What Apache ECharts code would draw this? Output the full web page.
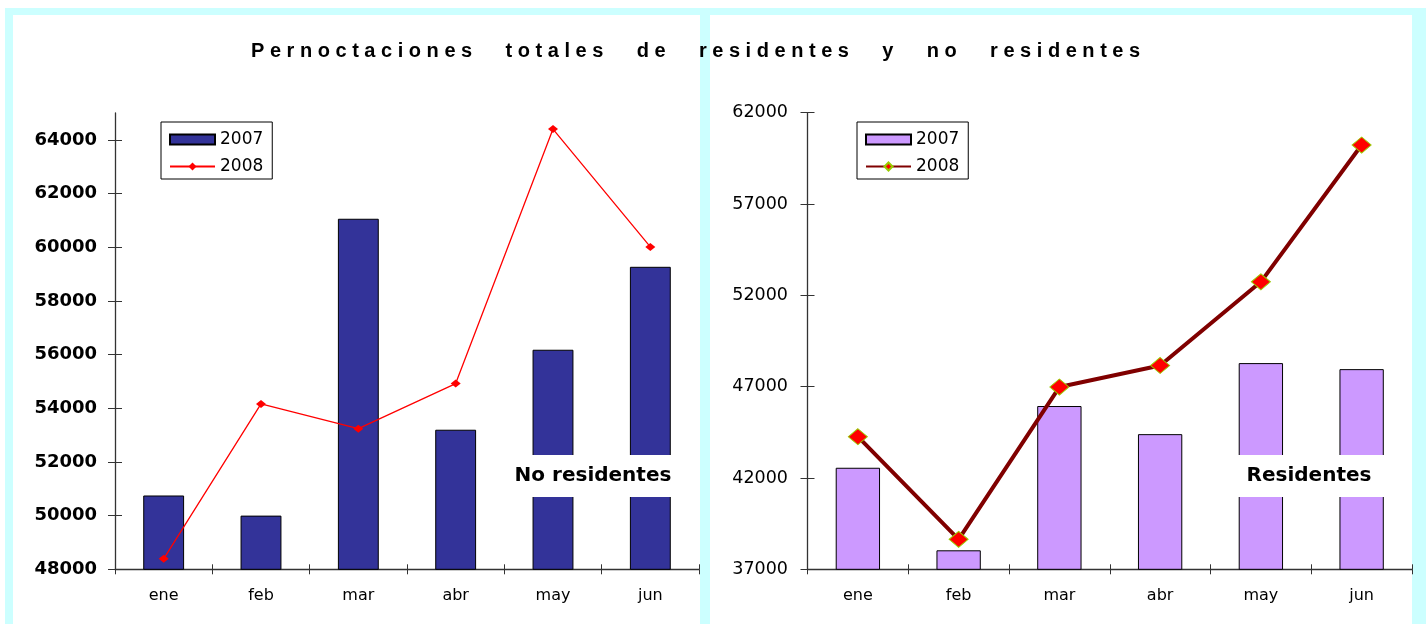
<!DOCTYPE html>
<html>
<head>
<meta charset="utf-8">
<script src="https://cdn.jsdelivr.net/npm/echarts@6/dist/echarts.min.js"></script>
<style>
html,body{margin:0;padding:0;background:#fff;}
#main{width:1426px;height:624px;}
</style>
</head>
<body>
<div id="main"></div>
<script>
// datos
var months = ['ene', 'feb', 'mar', 'abr', 'may', 'jun'];
var noRes2007 = [50750, 50000, 61060, 53200, 56180, 59270];
var noRes2008 = [48390, 54160, 53240, 54920, 64400, 60010];
var res2007 = [42560, 38040, 45940, 44400, 48290, 47960];
var res2008 = [44260, 38640, 46980, 48160, 52740, 60230];
var leftTicks = [48000, 50000, 52000, 54000, 56000, 58000, 60000, 62000, 64000];
var rightTicks = [37000, 42000, 47000, 52000, 57000, 62000];
var titleWords = ['Pernoctaciones', 'totales', 'de', 'residentes', 'y', 'no', 'residentes'];

// titulo con letras espaciadas como en el original
var titleText = titleWords.map(function (w) { return w.split('').join(' '); }).join('      ');
var numFont = 'DejaVu Sans';
var axisColor = '#333';

function plain(v) { return String(v); }

function yMain(grid, min, max, ticks, bold, size, margin) {
	return {
		type: 'value', gridIndex: grid, position: 'left', min: min, max: max,
		axisLine: {show: true, lineStyle: {color: axisColor, width: 1.3}},
		axisTick: {show: true, length: 7, lineStyle: {color: axisColor}, customValues: ticks},
		axisLabel: {
			customValues: ticks, margin: margin, color: '#000', formatter: plain,
			fontFamily: numFont, fontSize: size, fontWeight: bold ? 'bold' : 'normal'
		},
		splitLine: {show: false}
	};
}
function yInner(grid, min, max, ticks) {
	return {
		type: 'value', gridIndex: grid, position: 'left', min: min, max: max,
		axisLine: {show: false},
		axisTick: {show: true, inside: true, length: 7, lineStyle: {color: axisColor}, customValues: ticks},
		axisLabel: {show: false},
		splitLine: {show: false}
	};
}
function xMain(grid) {
	return {
		type: 'category', gridIndex: grid, position: 'bottom', data: months,
		axisLine: {show: true, lineStyle: {color: axisColor, width: 1.3}},
		axisTick: {show: true, length: 5, interval: 0, lineStyle: {color: axisColor}},
		axisLabel: {margin: 19, color: '#000', fontFamily: numFont, fontSize: 16}
	};
}
function xInner(grid) {
	return {
		type: 'category', gridIndex: grid, position: 'bottom', data: months,
		axisLine: {show: false},
		axisTick: {show: true, inside: true, length: 5, interval: 0, lineStyle: {color: axisColor}},
		axisLabel: {show: false}
	};
}
function legend(left, names) {
	return {
		left: left, top: 122, orient: 'vertical',
		data: [{name: names[0], icon: 'rect'}, {name: names[1]}],
		formatter: function (n) { return n.slice(-4); },
		itemWidth: 45, itemHeight: 10, itemGap: 10,
		padding: [9, 9, 4, 8],
		borderColor: '#000', borderWidth: 1, backgroundColor: '#fff',
		textStyle: {fontFamily: numFont, fontSize: 17, color: '#000'}
	};
}
function boxLabel(x1, x2, text) {
	return [{
		type: 'rect', z: 100,
		shape: {x: x1, y: 455, width: x2 - x1, height: 42},
		style: {fill: '#fff'}
	}, {
		type: 'text', z: 101,
		x: (x1 + x2) / 2, y: 476,
		style: {
			text: text, fill: '#000', align: 'center', verticalAlign: 'middle',
			font: 'bold 20px "DejaVu Sans"'
		}
	}];
}

var chart = echarts.init(document.getElementById('main'));
var option = {
	animation: false,
	title: {
		text: titleText, left: 246, top: 36,
		textStyle: {fontFamily: 'Liberation Sans', fontSize: 20, fontWeight: 'bold', color: '#000'}
	},
	graphic: [
		{type: 'rect', z: -10, shape: {x: 5, y: 8, width: 1421, height: 616}, style: {fill: '#ccffff'}},
		{type: 'rect', z: -9, shape: {x: 13, y: 15, width: 687, height: 609}, style: {fill: '#fff'}},
		{type: 'rect', z: -9, shape: {x: 710, y: 15, width: 702, height: 609}, style: {fill: '#fff'}}
	].concat(boxLabel(500, 686, 'No residentes')).concat(boxLabel(1226, 1392, 'Residentes')),
	legend: [
		legend(161, ['2007', '2008']),
		legend(857, ['Residentes 2007', 'Residentes 2008'])
	],
	grid: [
		{left: 115, top: 113, width: 584, height: 456.3},
		{left: 807.5, top: 112.7, width: 604.5, height: 456.6}
	],
	xAxis: [xMain(0), xMain(1), xInner(0), xInner(1)],
	yAxis: [
		yMain(0, 48000, 65000, leftTicks, true, 18, 18),
		yMain(1, 37000, 62000, rightTicks, false, 17.5, 19.5),
		yInner(0, 48000, 65000, leftTicks),
		yInner(1, 37000, 62000, rightTicks)
	],
	series: [
		{
			name: '2007', type: 'bar', xAxisIndex: 0, yAxisIndex: 0, data: noRes2007,
			barWidth: '42%',
			itemStyle: {color: '#333399', borderColor: '#000', borderWidth: 1}
		},
		{
			name: '2008', type: 'line', xAxisIndex: 0, yAxisIndex: 0, data: noRes2008,
			symbol: 'diamond', symbolSize: [10, 8],
			lineStyle: {color: '#ff0000', width: 1.3},
			itemStyle: {color: '#ff0000'}
		},
		{
			name: 'Residentes 2007', type: 'bar', xAxisIndex: 1, yAxisIndex: 1, data: res2007,
			barWidth: '44%',
			itemStyle: {color: '#cc99ff', borderColor: '#000', borderWidth: 1}
		},
		{
			name: 'Residentes 2008', type: 'line', xAxisIndex: 1, yAxisIndex: 1, data: res2008,
			symbol: 'diamond', symbolSize: [19, 16],
			lineStyle: {color: '#800000', width: 4},
			itemStyle: {color: '#ff0000', borderColor: '#99cc00', borderWidth: 1}
		}
	]
};
chart.setOption(option);
</script>
</body>
</html>
